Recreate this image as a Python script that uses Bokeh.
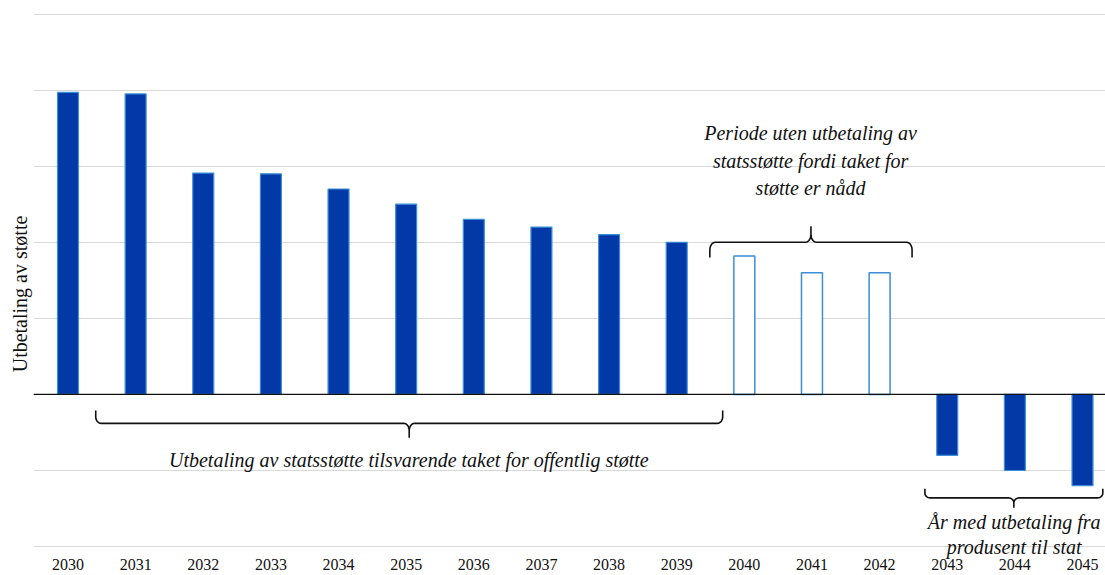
import numpy as np
from bokeh.plotting import figure
from bokeh.models import ColumnDataSource, Range1d, FixedTicker, Span, Label
from bokeh.embed import file_html
from bokeh.resources import INLINE

# ---- data ----
years = ["2030", "2031", "2032", "2033", "2034", "2035", "2036", "2037",
         "2038", "2039", "2040", "2041", "2042", "2043", "2044", "2045"]
values = [3.97, 3.95, 2.91, 2.90, 2.70, 2.50, 2.30, 2.20,
          2.10, 2.00, 1.82, 1.60, 1.60, -0.80, -1.00, -1.20]
hollow = [False, False, False, False, False, False, False, False,
          False, False, True, True, True, False, False, False]
grid_levels = [-2, -1, 0, 1, 2, 3, 4, 5]

y_title = "Utbetaling av støtte"
note_bottom = "Utbetaling av statsstøtte tilsvarende taket for offentlig støtte"
note_top = "Periode uten utbetaling av\nstatsstøtte fordi taket for\nstøtte er nådd"
note_right = "År med utbetaling fra\nprodusent til stat"

FILL = "#0339a6"
EDGE = "#3a8fd8"
SERIF = "Liberation Serif"
INK = "#111111"

idx = list(range(len(years)))
solid_src = ColumnDataSource(dict(
    x=[i for i in idx if not hollow[i]],
    top=[values[i] for i in idx if not hollow[i]]))
hollow_src = ColumnDataSource(dict(
    x=[i for i in idx if hollow[i]],
    top=[values[i] for i in idx if hollow[i]]))

p = figure(width=1105, height=575, output_backend="svg", toolbar_location=None,
           x_range=Range1d(-0.51, 15.34), y_range=Range1d(-2.38, 5.02),
           min_border_left=33, min_border_top=12, min_border_right=0,
           min_border_bottom=0)
p.outline_line_color = None
p.background_fill_color = "white"

p.vbar(x="x", top="top", bottom=0, width=0.31, source=solid_src,
       fill_color=FILL, line_color=EDGE, line_width=1.2)
p.vbar(x="x", top="top", bottom=0, width=0.31, source=hollow_src,
       fill_color="white", line_color=EDGE, line_width=1.5)

p.add_layout(Span(location=0, dimension="width", line_color=INK, line_width=1.2))

# grid
p.ygrid.ticker = FixedTicker(ticks=grid_levels)
p.ygrid.grid_line_color = "#d9d9d9"
p.ygrid.grid_line_width = 1
p.xgrid.grid_line_color = None

# x axis, pinned to the lowest grid level
p.xaxis.fixed_location = grid_levels[0]
p.xaxis.ticker = FixedTicker(ticks=idx)
p.xaxis.major_label_overrides = {i: y for i, y in zip(idx, years)}
p.xaxis.axis_line_color = None
p.xaxis.major_tick_line_color = None
p.xaxis.minor_tick_line_color = None
p.xaxis.major_tick_out = 0
p.xaxis.major_tick_in = 0
p.xaxis.major_label_standoff = 12
p.xaxis.major_label_text_font = SERIF
p.xaxis.major_label_text_font_size = "16px"
p.xaxis.major_label_text_color = INK

# y axis (title only)
p.yaxis.ticker = FixedTicker(ticks=[])
p.yaxis.axis_label = y_title
p.yaxis.axis_label_text_font = SERIF
p.yaxis.axis_label_text_font_style = "normal"
p.yaxis.axis_label_text_font_size = "20px"
p.yaxis.axis_label_text_color = INK
p.yaxis.axis_label_standoff = 3
p.yaxis.major_label_standoff = 0
p.yaxis.major_tick_out = 0
p.yaxis.major_tick_line_color = None
p.yaxis.minor_tick_line_color = None
p.yaxis.axis_line_color = None


def brace(x0, x1, y_end, y_mid, y_tip, rx=0.08):
    """Curly-brace path between x0 and x1 (data units)."""
    xc = (x0 + x1) / 2
    ry = (y_mid - y_end) * 0.5
    t = np.linspace(0, np.pi / 2, 8)
    xs, ys = [x0], [y_end]
    xs += list(x0 + rx * (1 - np.cos(t)))
    ys += list(y_mid - ry + ry * np.sin(t))
    ty = (y_tip - y_mid)
    xs += [xc - rx]
    ys += [y_mid]
    xs += list(xc - rx + rx * np.sin(t))
    ys += list(y_mid + ty * 0.5 * (1 - np.cos(t)))
    xs += [xc]
    ys += [y_tip]
    mx = [2 * xc - v for v in xs[::-1]]
    my = ys[::-1]
    return xs + mx[1:], ys + my[1:]


for (a, b, ye, ym, yt) in [(0.41, 9.68, -0.21, -0.38, -0.57),
                           (9.49, 12.48, 1.80, 2.00, 2.21),
                           (12.67, 15.30, -1.24, -1.36, -1.49)]:
    bx, by = brace(a, b, ye, ym, yt)
    p.line(bx, by, line_color=INK, line_width=1.6)

p.add_layout(Label(x=5.04, y=-0.86, text=note_bottom, text_align="center",
                   text_baseline="middle", text_font=SERIF, text_font_style="italic",
                   text_font_size="20px", text_color=INK))
p.add_layout(Label(x=10.98, y=3.07, text=note_top, text_align="center",
                   text_baseline="middle", text_font=SERIF, text_font_style="italic",
                   text_font_size="20px", text_color=INK, text_line_height=1.25))
p.add_layout(Label(x=13.99, y=-1.84, text=note_right, text_align="center",
                   text_baseline="middle", text_font=SERIF, text_font_style="italic",
                   text_font_size="20px", text_color=INK, text_line_height=1.15))

open("out.html", "w").write(file_html(p, INLINE))
